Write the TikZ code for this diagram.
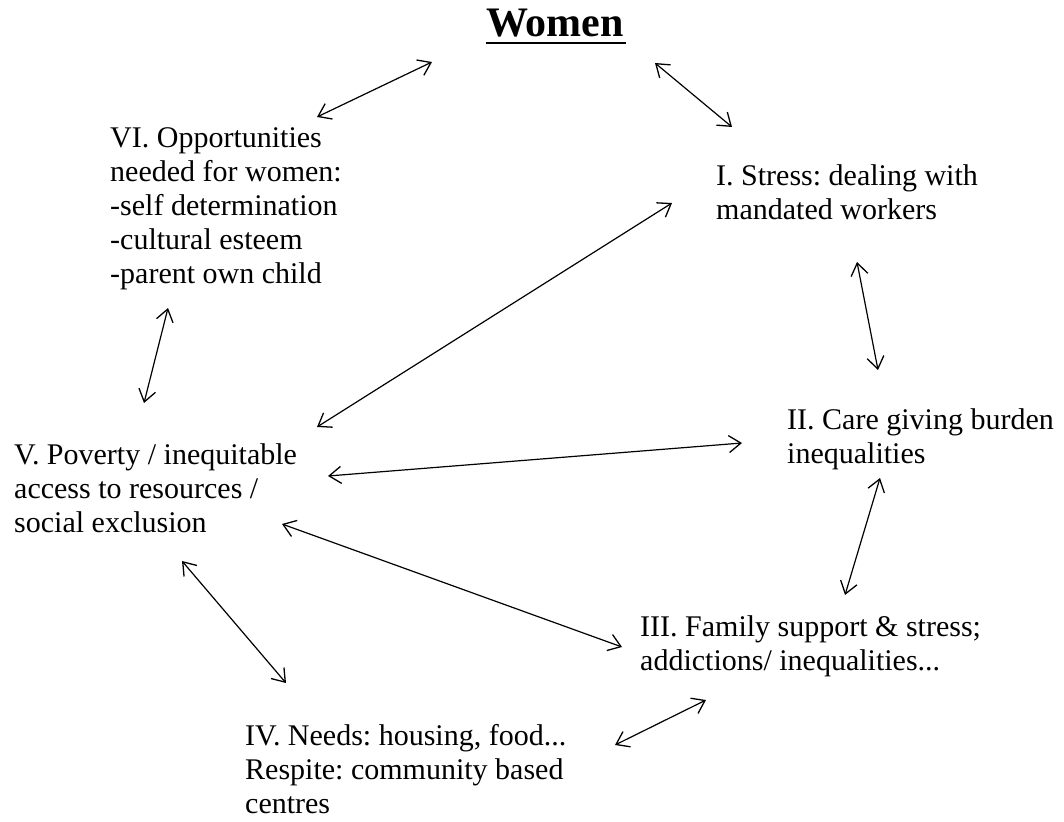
\documentclass[tikz,border=0pt]{standalone}
\usepackage{fontspec}
\setmainfont{Liberation Serif}
\usetikzlibrary{arrows.meta}
\frenchspacing
\begin{document}
\begin{tikzpicture}[x=1pt,y=-1pt,
  item/.style={anchor=north west, align=left, inner sep=0pt,
    font=\fontsize{30}{34}\selectfont\frenchspacing},
  tip/.tip={Straight Barb[length=12pt,width=17pt,line width=1.3pt]},
  link/.style={line width=1.2pt, tip-tip}]
\useasboundingbox (0,0) rectangle (1064,821);

% title
\node[anchor=base, inner sep=0pt, font=\fontsize{42}{48}\selectfont\bfseries]
  (women) at (555,37) {Women};
\draw[line width=2.5pt] (women.base west) ++(0,6) -- ++(140,0);

% the six themes (anchored at the top of the first line)
\node[item] (vi)  at (110,151-24) {VI. Opportunities\\needed for women:\\-self determination\\-cultural esteem\\-parent own child};
\node[item] (i)   at (716,188-24) {I. Stress: dealing with\\mandated workers};
\node[item] (ii)  at (787,432-24) {II. Care giving burden\\inequalities};
\node[item] (v)   at (14,467-24)  {V. Poverty / inequitable\\access to resources /\\social exclusion};
\node[item] (iii) at (640,639-24) {III. Family support \& stress;\\addictions/ inequalities...};
\node[item] (iv)  at (245,748-24) {IV. Needs: housing, food...\\Respite: community based\\centres};

% connector end points
\coordinate (women-vi)  at (432,62);
\coordinate (vi-women)  at (317,117);
\coordinate (women-i)   at (655,63);
\coordinate (i-women)   at (732,127);
\coordinate (i-ii)      at (857,262);
\coordinate (ii-i)      at (878,370);
\coordinate (v-i)       at (317,427);
\coordinate (i-v)       at (672,203);
\coordinate (v-ii)      at (328,476);
\coordinate (ii-v)      at (742,443);
\coordinate (vi-v)      at (168,308);
\coordinate (v-vi)      at (144,403);
\coordinate (ii-iii)    at (880,478);
\coordinate (iii-ii)    at (845,595);
\coordinate (v-iii)     at (282,524);
\coordinate (iii-v)     at (622,647);
\coordinate (v-iv)      at (182,561);
\coordinate (iv-v)      at (286,683);
\coordinate (iii-iv)    at (706,700);
\coordinate (iv-iii)    at (615,745);

% connectors
\draw[link] (vi-women) -- (women-vi);
\draw[link] (women-i) -- (i-women);
\draw[link] (i-ii) -- (ii-i);
\draw[link] (v-i) -- (i-v);
\draw[link] (v-ii) -- (ii-v);
\draw[link] (vi-v) -- (v-vi);
\draw[link] (ii-iii) -- (iii-ii);
\draw[link] (v-iii) -- (iii-v);
\draw[link] (v-iv) -- (iv-v);
\draw[link] (iii-iv) -- (iv-iii);
\end{tikzpicture}
\end{document}
